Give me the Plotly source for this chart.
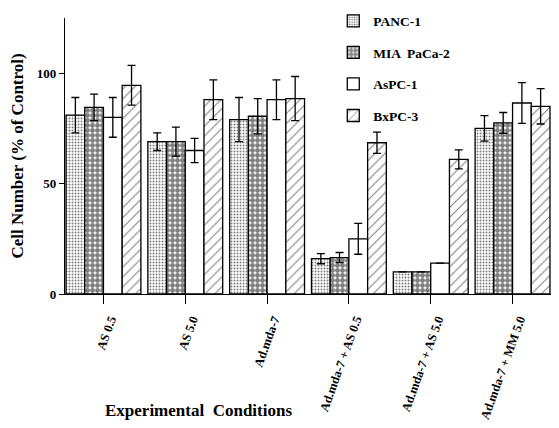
import plotly.graph_objects as go

conditions = ["AS 0.5", "AS 5.0", "Ad.mda-7", "Ad.mda-7 + AS 0.5", "Ad.mda-7 + AS 5.0", "Ad.mda-7 + MM 5.0"]
series_names = ["PANC-1", "MIA  PaCa-2", "AsPC-1", "BxPC-3"]

panc1 = [81, 69, 79, 16, 10, 75]
panc1_err = [8, 4, 10, 2.3, 0, 5.8]
mia = [84.5, 69, 80.5, 16.5, 10, 77.5]
mia_err = [6, 6.6, 8, 2.3, 0, 4.7]
aspc1 = [80, 65, 88, 25, 14, 86.5]
aspc1_err = [9, 5.5, 9, 7, 0, 9.2]
bxpc3 = [94.5, 88, 88.5, 68.5, 61, 85]
bxpc3_err = [9, 9, 10, 4.8, 4.3, 8]

values = [panc1, mia, aspc1, bxpc3]
errors = [panc1_err, mia_err, aspc1_err, bxpc3_err]
patterns = [
    dict(shape=".", size=3, solidity=0.35, fgcolor="black", bgcolor="white", fillmode="overlay"),
    dict(shape=".", size=5, solidity=0.75, fgcolor="black", bgcolor="white", fillmode="overlay"),
    dict(shape="", fgcolor="black", bgcolor="white"),
    dict(shape="/", size=7, solidity=0.15, fgcolor="black", bgcolor="white", fillmode="overlay"),
]

serif = "Liberation Serif, Times New Roman, serif"
fig = go.Figure()
for i, name in enumerate(series_names):
    fig.add_trace(go.Bar(
        name=name, x=list(range(len(conditions))), y=values[i],
        legendgroup=f"g{i}",
        marker=dict(color="white", line=dict(color="black", width=1.3), pattern=patterns[i]),
        error_y=dict(type="data", array=errors[i], visible=True, color="black", thickness=1.3, width=4),
    ))

# page body has ~8px margin; size the figure so the whole page is visible
W, H = 543, 420
L, T, B = 57, 10, 134
plot_w = W - L
plot_h = H - T - B

fig.update_layout(
    width=W, height=H,
    margin=dict(l=L, r=0, t=T, b=B, autoexpand=False),
    paper_bgcolor="white", plot_bgcolor="white",
    barmode="group", bargap=0.085, bargroupgap=0,
    font=dict(family=serif, color="black"),
    showlegend=True,
    legend=dict(x=0.552, y=1.045, xanchor="left", yanchor="top",
                font=dict(family=serif, size=13.5, color="black", weight="bold"),
                tracegroupgap=11, bgcolor="rgba(0,0,0,0)"),
    xaxis=dict(range=[-0.47, 5.47], tickmode="array", tickvals=list(range(len(conditions))),
               ticktext=conditions, tickangle=-70, showline=True, linecolor="black", linewidth=1.3,
               ticks="outside", ticklen=9, tickcolor="black", tickwidth=1.3, showgrid=False, zeroline=False,
               ticklabelshift=7, ticklabelstandoff=3, automargin=False,
               tickfont=dict(family=serif, size=12.5, color="black", weight="bold")),
    yaxis=dict(range=[0, 125], tickvals=[0, 50, 100], showline=True, linecolor="black", linewidth=1.3,
               ticks="outside", ticklen=5, tickcolor="black", showgrid=False, zeroline=False, automargin=False,
               tickfont=dict(family=serif, size=13, color="black", weight="bold"),
               title=dict(text="Cell Number (% of Control)", standoff=8,
                          font=dict(family=serif, size=17, color="black", weight="bold"))),
    annotations=[dict(text="Experimental  Conditions", xref="paper", yref="paper",
                      x=(190 - L) / plot_w, y=-(402 - (H - B)) / plot_h, xanchor="center", yanchor="middle",
                      showarrow=False, font=dict(family=serif, size=17, color="black", weight="bold"))],
)

fig.write_html("out.html")
